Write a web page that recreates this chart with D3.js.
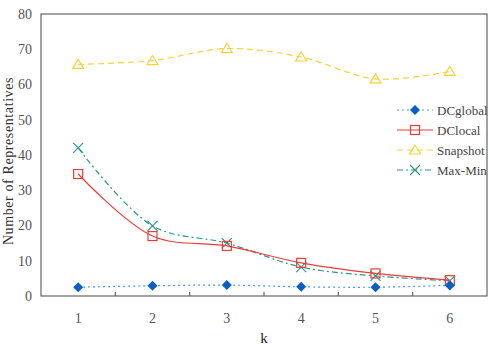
<!DOCTYPE html>
<html>
<head>
<meta charset="utf-8">
<script src="https://cdn.jsdelivr.net/npm/d3@7"></script>
<style>
  body { margin: 0; background: #fff; }
  svg { display: block; }
  svg text { font-family: "Liberation Serif", "DejaVu Serif", serif; }
</style>
</head>
<body>
<svg id="chart"></svg>
<script>
var width = 490,
    height = 351;

// data
var ks = ["1", "2", "3", "4", "5", "6"];
var yTicks = [0, 10, 20, 30, 40, 50, 60, 70, 80];
var dcGlobal = [2.5, 2.9, 3.1, 2.6, 2.5, 3.0];
var dcLocal = [34.6, 17.0, 14.2, 9.4, 6.4, 4.5];
var snapshot = [65.7, 66.8, 70.2, 67.8, 61.6, 63.7];
var maxMin = [42.0, 19.9, 15.0, 8.2, 5.7, 4.3];
var seriesNames = ["DCglobal", "DClocal", "Snapshot", "Max-Min"];

var series = [
  { name: seriesNames[0], values: dcGlobal, color: "#4a96e4", mark: "#0a5fc4", dash: "2,3", shape: "diamond" },
  { name: seriesNames[1], values: dcLocal, color: "#ec3b3b", mark: "#ec3b3b", dash: null, shape: "square" },
  { name: seriesNames[2], values: snapshot, color: "#f8d23a", mark: "#f8d23a", dash: "6,4", shape: "triangle" },
  { name: seriesNames[3], values: maxMin, color: "#2a9a8c", mark: "#2a9a8c", dash: "6,3,2,3", shape: "cross" }
];

var serif = "Liberation Serif, DejaVu Serif, serif";
var margin = { top: 14, right: 3, bottom: 55, left: 41 };

var svg = d3.select("#chart")
    .attr("width", width)
    .attr("height", height);

var x = d3.scaleBand()
    .domain(ks)
    .range([margin.left, width - margin.right]);

var y = d3.scaleLinear()
    .domain([0, 80])
    .range([height - margin.bottom, margin.top]);

var axisColor = "#666";

// frame
svg.append("rect")
    .attr("x", margin.left)
    .attr("y", margin.top)
    .attr("width", width - margin.left - margin.right)
    .attr("height", height - margin.top - margin.bottom)
    .attr("fill", "none")
    .attr("stroke", axisColor)
    .attr("stroke-width", 1.2);

// x axis: ticks between categories, pointing inward
var xAxis = svg.append("g")
    .attr("transform", "translate(0," + y(0) + ")");

xAxis.selectAll("line")
    .data(ks.slice(1))
    .enter()
    .append("line")
    .attr("x1", function(d) { return x(d); })
    .attr("x2", function(d) { return x(d); })
    .attr("y1", 0)
    .attr("y2", -4)
    .attr("stroke", axisColor)
    .attr("stroke-width", 1.2);

xAxis.selectAll("text")
    .data(ks)
    .enter()
    .append("text")
    .attr("x", function(d) { return x(d) + x.bandwidth() / 2; })
    .attr("y", 27)
    .attr("text-anchor", "middle")
    .attr("font-family", serif)
    .attr("font-size", 14)
    .attr("fill", "#555")
    .text(function(d) { return d; });

// y axis labels
var yAxis = d3.axisLeft(y)
    .tickValues(yTicks)
    .tickSize(0)
    .tickPadding(9);

svg.append("g")
    .attr("transform", "translate(" + margin.left + ",0)")
    .call(yAxis)
    .call(function(g) { g.select(".domain").remove(); })
    .selectAll("text")
    .attr("font-family", serif)
    .attr("font-size", 14)
    .attr("fill", "#555");

// axis titles
svg.append("text")
    .attr("x", x("3") + x.bandwidth())
    .attr("y", 343)
    .attr("text-anchor", "middle")
    .attr("font-family", serif)
    .attr("font-size", 15)
    .attr("fill", "#222")
    .text("k");

svg.append("text")
    .attr("transform", "translate(13,161) rotate(-90)")
    .attr("text-anchor", "middle")
    .attr("font-family", serif)
    .attr("font-size", 14)
    .attr("letter-spacing", 0.6)
    .attr("fill", "#333")
    .text("Number of Representatives");

// markers
function drawMarker(g, shape, color) {
  if (shape === "diamond") {
    g.append("path")
        .attr("d", "M0,-5L5,0L0,5L-5,0Z")
        .attr("fill", color);
  } else if (shape === "square") {
    g.append("rect")
        .attr("x", -4.5).attr("y", -4.5)
        .attr("width", 9).attr("height", 9)
        .attr("fill", "none")
        .attr("stroke", color)
        .attr("stroke-width", 1.2);
  } else if (shape === "triangle") {
    g.append("path")
        .attr("d", "M0,-5L5.5,4L-5.5,4Z")
        .attr("fill", "none")
        .attr("stroke", color)
        .attr("stroke-width", 1.2);
  } else {
    g.append("path")
        .attr("d", "M-5,-5L5,5M-5,5L5,-5")
        .attr("fill", "none")
        .attr("stroke", color)
        .attr("stroke-width", 1.2);
  }
}

var line = d3.line()
    .x(function(d, i) { return x(ks[i]) + x.bandwidth() / 2; })
    .y(function(d) { return y(d); })
    .curve(d3.curveCatmullRom.alpha(0.5));

// draw in order so DCglobal ends up on top
var drawOrder = [2, 3, 1, 0];
drawOrder.forEach(function(si) {
  var s = series[si];
  svg.append("path")
      .datum(s.values)
      .attr("d", line)
      .attr("fill", "none")
      .attr("stroke", s.color)
      .attr("stroke-width", 1.2)
      .attr("stroke-dasharray", s.dash);

  svg.selectAll(null)
      .data(s.values)
      .enter()
      .append("g")
      .attr("transform", function(d, i) {
        return "translate(" + (x(ks[i]) + x.bandwidth() / 2) + "," + y(d) + ")";
      })
      .each(function() { drawMarker(d3.select(this), s.shape, s.mark); });
});

// legend
var legend = svg.append("g")
    .attr("transform", "translate(397,110)");

var items = legend.selectAll("g")
    .data(series)
    .enter()
    .append("g")
    .attr("transform", function(d, i) { return "translate(0," + i * 20 + ")"; });

items.append("line")
    .attr("x1", 0).attr("x2", 36)
    .attr("y1", 0).attr("y2", 0)
    .attr("stroke", function(d) { return d.color; })
    .attr("stroke-width", 1.2)
    .attr("stroke-dasharray", function(d) { return d.dash; });

items.append("g")
    .attr("transform", "translate(18,0)")
    .each(function(d) { drawMarker(d3.select(this), d.shape, d.mark); });

items.append("text")
    .attr("x", 40)
    .attr("y", 4.5)
    .attr("font-family", serif)
    .attr("font-size", 13)
    .attr("fill", "#444")
    .text(function(d) { return d.name; });
</script>
</body>
</html>
